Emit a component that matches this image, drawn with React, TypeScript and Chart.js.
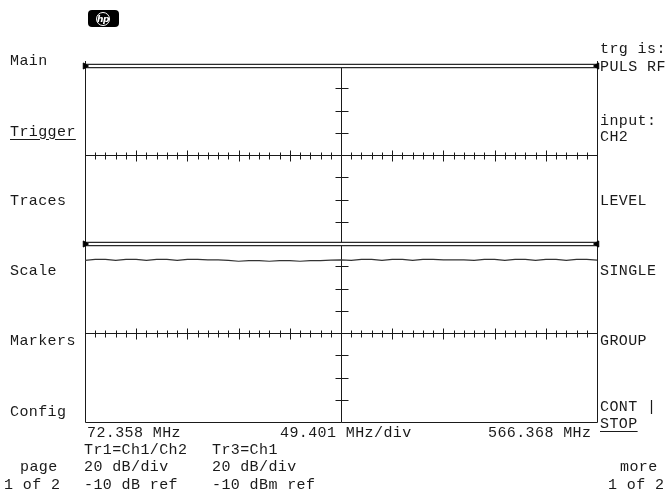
import React, { useEffect, useRef } from 'react';
import { Chart, registerables } from 'chart.js';

Chart.register(...registerables);

// ---- instrument settings / data ----
const START_MHZ = 72.358;
const STOP_MHZ = 566.368;
const MHZ_PER_DIV = 49.401;
const X_DIVS = 10;
const MINOR_PER_DIV = 5;
const Y_DIVS = 8;
const TR1_REF_DB = -10;
const TR1_DB_PER_DIV = 20;
const TR3_REF_DBM = -10;
const TR3_DB_PER_DIV = 20;

// Tr1 (Ch1/Ch2) reference line, top display
const tr1Freqs = [72.358, 566.368];
const tr1Values = [-10, -10];
// Tr3 (Ch1) reference line, bottom display
const tr3RefValues = [-10, -10];
// Tr3 (Ch1) measured trace, dBm, one point per minor division
const tr3Values = [
  -24.7, -23.9, -23.9, -24.7, -23.9, -23.9, -24.7, -23.9, -23.9, -24.7,
  -23.9, -23.9, -24.3, -24.3, -24.7, -25.5, -24.9, -24.9, -25.5, -24.9,
  -24.9, -25.5, -24.9, -24.9, -24.5, -24.3, -24.7, -23.9, -23.9, -24.7,
  -23.9, -23.9, -24.7, -23.9, -23.9, -24.3, -24.3, -24.3, -24.7, -23.9,
  -23.9, -24.7, -23.9, -23.9, -24.7, -23.9, -23.9, -24.7, -23.9, -23.9,
  -24.5,
];

const LEFT_KEYS = ['Main', 'Trigger', 'Traces', 'Scale', 'Markers', 'Config'];
const RIGHT_KEYS = ['trg is:', 'PULS RF', 'input:', 'CH2', 'LEVEL', 'SINGLE', 'GROUP', 'CONT |', 'STOP'];
const FREQ_LABELS = ['72.358 MHz', '49.401 MHz/div', '566.368 MHz'];
const TRACE_LABELS = ['Tr1=Ch1/Ch2', 'Tr3=Ch1'];
const SCALE_LABELS = ['20 dB/div', '20 dB/div'];
const REF_LABELS = ['-10 dB ref', '-10 dBm ref'];
const PAGE_LABELS = ['page', '1 of 2', 'more', '1 of 2'];

const INK = '#1a1a1a';

const gridPlugin = {
  id: 'hpGrid',
  beforeDatasetsDraw(chart: any) {
    const { ctx, chartArea, scales } = chart;
    const xs = scales.x;
    const panels = [
      { s: scales.yTop, ref: TR1_REF_DB, per: TR1_DB_PER_DIV },
      { s: scales.yBot, ref: TR3_REF_DBM, per: TR3_DB_PER_DIV },
    ];
    const L = Math.round(chartArea.left) + 0.5;
    const R = Math.round(chartArea.right) + 0.5;
    const T = Math.round(chartArea.top);
    const B = Math.round(chartArea.bottom) + 0.5;
    const cx = Math.round(xs.getPixelForValue(START_MHZ + (X_DIVS / 2) * MHZ_PER_DIV)) + 0.5;
    ctx.save();
    ctx.strokeStyle = INK;
    ctx.lineWidth = 1;
    ctx.beginPath();
    // frame
    ctx.moveTo(L, T - 5); ctx.lineTo(L, B);
    ctx.moveTo(R, T - 5); ctx.lineTo(R, B);
    ctx.moveTo(L, B); ctx.lineTo(R, B);
    // centre vertical
    ctx.moveTo(cx, T); ctx.lineTo(cx, B);
    for (const p of panels) {
      const midV = p.ref - (Y_DIVS / 2) * p.per;
      const cy = Math.round(p.s.getPixelForValue(midV)) + 0.5;
      ctx.moveTo(L, cy); ctx.lineTo(R, cy);
      for (let k = 1; k < X_DIVS * MINOR_PER_DIV; k++) {
        const f = START_MHZ + (k * MHZ_PER_DIV) / MINOR_PER_DIV;
        const px = Math.round(xs.getPixelForValue(f)) + 0.5;
        const len = k % MINOR_PER_DIV === 0 ? 5 : 3;
        ctx.moveTo(px, cy - len); ctx.lineTo(px, cy + len + 1);
      }
      for (let j = 1; j < Y_DIVS; j++) {
        if (j === Y_DIVS / 2) continue;
        const py = Math.round(p.s.getPixelForValue(p.ref - j * p.per)) + 0.5;
        ctx.moveTo(cx - 6, py); ctx.lineTo(cx + 7, py);
      }
    }
    ctx.stroke();
    ctx.restore();
  },
};

function pts(freqs: number[], vals: number[]) {
  return vals.map((v, i) => ({ x: freqs[i], y: v }));
}

const tr3Freqs = tr3Values.map((_, i) => START_MHZ + (i * MHZ_PER_DIV) / MINOR_PER_DIV);

function refLine(vals: number[], axis: string, n: number) {
  const data = pts(tr1Freqs, vals);
  return [
    {
      data, yAxisID: axis, xAxisID: 'x', order: 5 + n,
      borderColor: '#2a2a2a', borderWidth: 4.5, pointRadius: 0, clip: false,
    },
    {
      data, yAxisID: axis, xAxisID: 'x', order: 1 + n,
      borderColor: '#ffffff', borderWidth: 2, clip: false,
      pointStyle: 'triangle',
      pointRadius: 3.5,
      pointRotation: (c: any) => (c.dataIndex === 0 ? 90 : -90),
      pointBackgroundColor: '#000', pointBorderColor: '#000', pointBorderWidth: 1,
    },
  ];
}

function Txt({ t, x, y, u }: { t: string; x: number; y: number; u?: boolean }) {
  return (
    <div
      style={{
        position: 'absolute', left: x, top: y - 6.5, fontFamily: "'Liberation Mono', monospace",
        fontSize: 15, lineHeight: '15px', letterSpacing: '0.4px', color: INK, whiteSpace: 'pre',
        textDecoration: u ? 'underline' : 'none', textUnderlineOffset: '3px',
      }}
    >
      {t}
    </div>
  );
}

export default function App() {
  const ref = useRef<HTMLCanvasElement | null>(null);
  useEffect(() => {
    if (!ref.current) return;
    const chart = new Chart(ref.current, {
      type: 'line',
      data: {
        datasets: [
          ...refLine(tr1Values, 'yTop', 0),
          ...refLine(tr3RefValues, 'yBot', 1),
          {
            data: pts(tr3Freqs, tr3Values), yAxisID: 'yBot', xAxisID: 'x', order: 0,
            borderColor: '#333', borderWidth: 1.2, pointRadius: 0, tension: 0,
          },
        ] as any,
      },
      options: {
        animation: false,
        responsive: false,
        devicePixelRatio: 1,
        layout: { padding: { left: 85, right: 70, top: 66, bottom: 81 } },
        plugins: { legend: { display: false }, tooltip: { enabled: false } },
        events: [],
        scales: {
          x: { type: 'linear', min: START_MHZ, max: STOP_MHZ, display: false },
          yBot: {
            type: 'linear', position: 'left', stack: 'scr', stackWeight: 1, display: false,
            min: TR3_REF_DBM - Y_DIVS * TR3_DB_PER_DIV, max: TR3_REF_DBM,
          },
          yTop: {
            type: 'linear', position: 'left', stack: 'scr', stackWeight: 1, display: false,
            min: TR1_REF_DB - Y_DIVS * TR1_DB_PER_DIV, max: TR1_REF_DB,
          },
        },
      } as any,
      plugins: [gridPlugin],
    });
    return () => chart.destroy();
  }, []);

  const leftY = [60, 131, 200, 270, 340, 411];
  const rightY = [48, 66, 120, 136, 200, 270, 340, 406, 423];
  return (
    <div style={{ position: 'absolute', left: 0, top: 0, width: 667, height: 503, background: '#fff', overflow: 'hidden' }}>
      <canvas ref={ref} width={667} height={503} style={{ position: 'absolute', left: 0, top: 0, width: 667, height: 503 }} />
      {/* hp logo */}
      <div style={{ position: 'absolute', left: 88, top: 10, width: 31, height: 17, background: '#000', borderRadius: 4 }}>
        <div style={{
          position: 'absolute', left: 8, top: 1.5, width: 12, height: 12, borderRadius: '50%', border: '1.5px solid #fff',
          color: '#fff', fontFamily: "'DejaVu Sans', sans-serif", fontStyle: 'italic', fontWeight: 'bold', fontSize: 9,
          lineHeight: '12px', textAlign: 'center', letterSpacing: '-0.5px',
        }}>hp</div>
      </div>
      {LEFT_KEYS.map((t, i) => <Txt key={'l' + i} t={t} x={10} y={leftY[i]} u={t === 'Trigger'} />)}
      {RIGHT_KEYS.map((t, i) => <Txt key={'r' + i} t={t} x={600} y={rightY[i]} u={t === 'STOP'} />)}
      <Txt t={FREQ_LABELS[0]} x={87} y={432} />
      <Txt t={FREQ_LABELS[1]} x={280} y={432} />
      <Txt t={FREQ_LABELS[2]} x={488} y={432} />
      <Txt t={TRACE_LABELS[0]} x={84} y={449} />
      <Txt t={TRACE_LABELS[1]} x={212} y={449} />
      <Txt t={PAGE_LABELS[0]} x={20} y={466} />
      <Txt t={SCALE_LABELS[0]} x={84} y={466} />
      <Txt t={SCALE_LABELS[1]} x={212} y={466} />
      <Txt t={PAGE_LABELS[2]} x={620} y={466} />
      <Txt t={PAGE_LABELS[1]} x={4} y={484} />
      <Txt t={REF_LABELS[0]} x={84} y={484} />
      <Txt t={REF_LABELS[1]} x={212} y={484} />
      <Txt t={PAGE_LABELS[3]} x={608} y={484} />
    </div>
  );
}
